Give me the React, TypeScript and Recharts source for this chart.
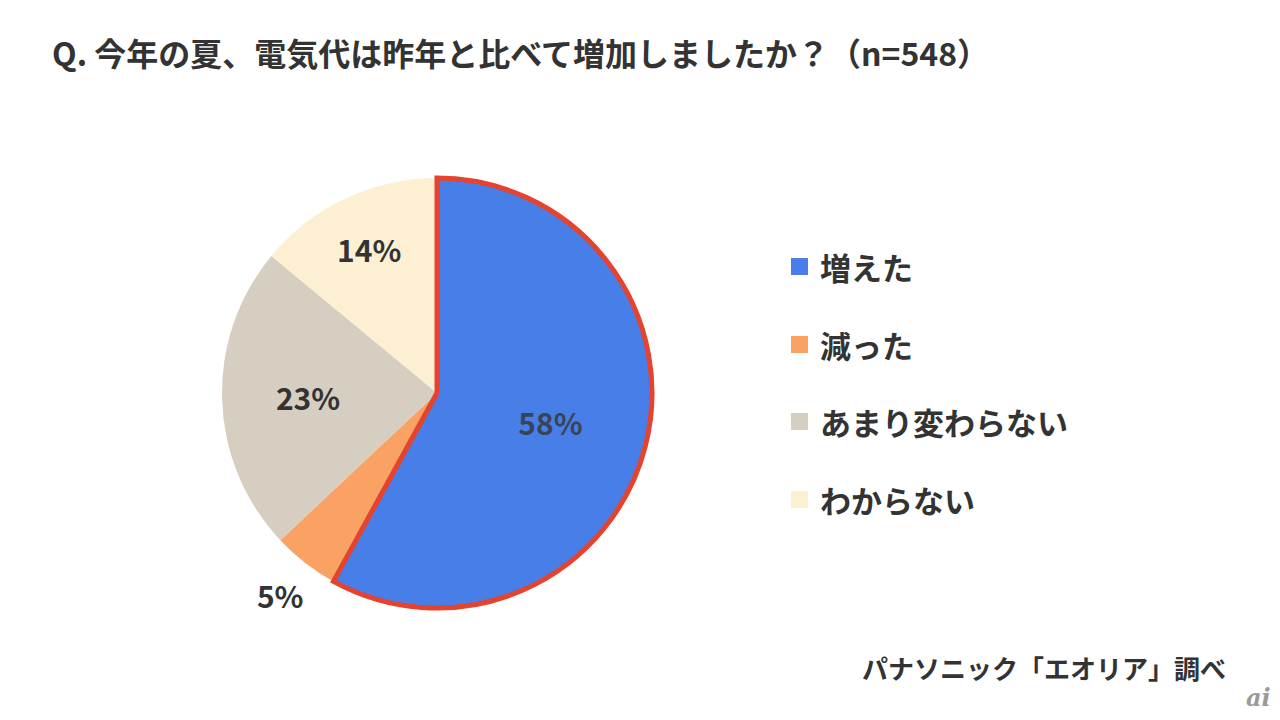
import * as React from "react"
import { PieChart, Pie, Cell } from "recharts"

const categories = ["増えた", "減った", "あまり変わらない", "わからない"]
const shares = [58, 5, 23, 14]
const COLORS = ["#477EE8", "#F9A264", "#D6CEC0", "#FDEFD1"]
// how far out each label sits, as a share of the radius
const LABEL_RADIUS = [0.545, 1.19, 0.6, 0.74]

const TITLE = "Q. 今年の夏、電気代は昨年と比べて増加しましたか？（n=548）"
const SOURCE = "パナソニック「エオリア」調べ"

const FONT = '"Noto Sans CJK JP", "Noto Sans", sans-serif'
const RADIAN = Math.PI / 180

const data = categories.map((name, i) => ({ name, value: shares[i] }))

const renderLabel = (props: any) => {
  const { cx, cy, midAngle, outerRadius, index, value } = props
  const r = outerRadius * LABEL_RADIUS[index]
  const x = cx + r * Math.cos(-midAngle * RADIAN)
  const y = cy + r * Math.sin(-midAngle * RADIAN)
  return (
    <text
      x={x}
      y={y}
      fill={index === 0 ? "#394459" : "#333333"}
      textAnchor="middle"
      dominantBaseline="central"
      style={{ fontFamily: FONT, fontSize: 30, fontWeight: 700 }}
    >
      {`${value}%`}
    </text>
  )
}

export default function App() {
  return (
    <div
      style={{
        position: "fixed",
        left: 0,
        top: 0,
        width: 1280,
        height: 720,
        background: "#ffffff",
        fontFamily: FONT,
      }}
    >
      <div
        style={{
          position: "absolute",
          left: 52,
          top: 31,
          fontSize: 32,
          fontWeight: 700,
          color: "#333333",
          whiteSpace: "nowrap",
          lineHeight: "42px",
        }}
      >
        {TITLE}
      </div>

      <div style={{ position: "absolute", left: 0, top: 0 }}>
        <PieChart width={1280} height={720} margin={{ top: 0, right: 0, bottom: 0, left: 0 }}>
          <Pie
            data={data}
            dataKey="value"
            nameKey="name"
            cx={437}
            cy={393}
            outerRadius={215}
            startAngle={90}
            endAngle={-270}
            stroke="none"
            labelLine={false}
            label={renderLabel}
            isAnimationActive={false}
          >
            {data.map((entry, i) => (
              <Cell key={`cell-${i}`} fill={COLORS[i]} stroke="none" />
            ))}
          </Pie>
          {/* outline of the first slice, drawn on top */}
          <Pie
            data={data}
            dataKey="value"
            nameKey="name"
            cx={437}
            cy={393}
            outerRadius={215}
            startAngle={90}
            endAngle={-270}
            isAnimationActive={false}
          >
            {data.map((entry, i) => (
              <Cell
                key={`outline-${i}`}
                fill={i === 0 ? COLORS[0] : "none"}
                stroke={i === 0 ? "#E5432E" : "none"}
                strokeWidth={i === 0 ? 5 : 0}
              />
            ))}
          </Pie>
        </PieChart>
      </div>

      <div style={{ position: "absolute", left: 791, top: 228 }}>
        {categories.map((name, i) => (
          <div
            key={`legend-${i}`}
            style={{ display: "flex", alignItems: "center", height: 77.5 }}
          >
            <span
              style={{
                width: 17,
                height: 17,
                background: COLORS[i],
                display: "inline-block",
                marginRight: 12,
              }}
            />
            <span
              style={{
                fontSize: 31,
                fontWeight: 700,
                color: "#333333",
                whiteSpace: "nowrap",
              }}
            >
              {name}
            </span>
          </div>
        ))}
      </div>

      <div
        style={{
          position: "absolute",
          left: 862,
          top: 651,
          fontSize: 26,
          fontWeight: 700,
          color: "#333333",
          whiteSpace: "nowrap",
          lineHeight: "34px",
        }}
      >
        {SOURCE}
      </div>
      <div
        style={{
          position: "absolute",
          left: 1246,
          top: 684,
          fontSize: 24,
          fontStyle: "italic",
          fontWeight: 700,
          color: "#9a9a9a",
          fontFamily: '"DejaVu Serif", serif',
          lineHeight: "28px",
        }}
      >
        ai
      </div>
    </div>
  )
}
